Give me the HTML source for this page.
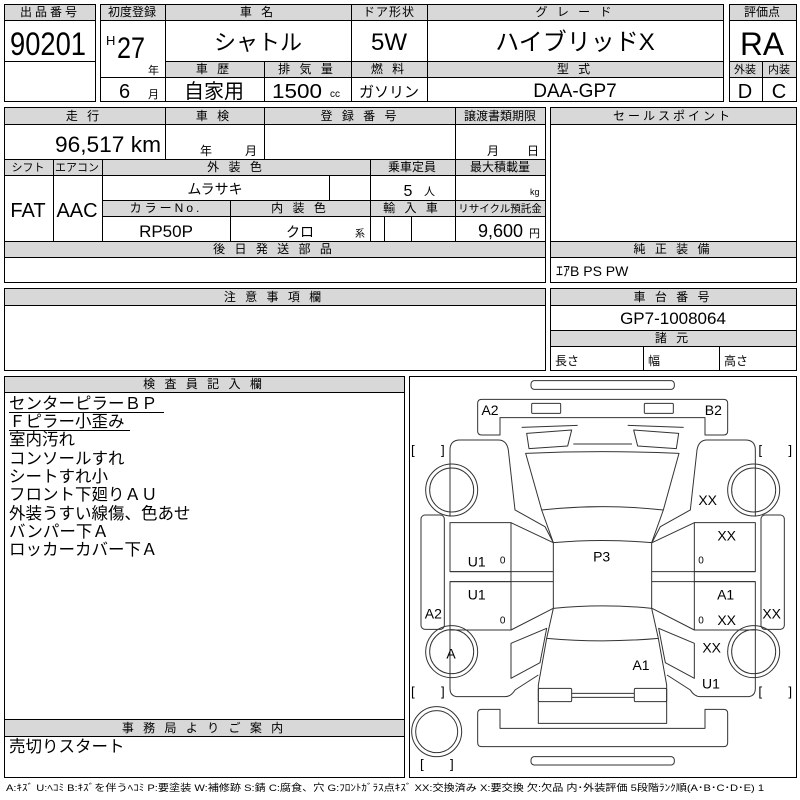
<!DOCTYPE html>
<html><head><meta charset="utf-8"><style>
body{margin:0;background:#fff}
svg{display:block}
text{font-family:"Liberation Sans","Noto Sans CJK JP",sans-serif;fill:#000}
.h{font-size:12px;text-anchor:middle;letter-spacing:3px}
.c{text-anchor:middle}
</style></head><body>
<svg width="800" height="800" viewBox="0 0 800 800" xmlns="http://www.w3.org/2000/svg">
<rect width="800" height="800" fill="#fff"/>
<g fill="#d8d8d8">
<rect x="4" y="4" width="91" height="16"/>
<rect x="100" y="4" width="623" height="16"/>
<rect x="165" y="61" width="558" height="16"/>
<rect x="729" y="4" width="67" height="16"/>
<rect x="729" y="61" width="67" height="16"/>
<rect x="4" y="107" width="541" height="17"/>
<rect x="4" y="159" width="541" height="16"/>
<rect x="102" y="200" width="443" height="16"/>
<rect x="4" y="241" width="541" height="16"/>
<rect x="550" y="107" width="246" height="17"/>
<rect x="550" y="241" width="246" height="16"/>
<rect x="4" y="288" width="541" height="17"/>
<rect x="550" y="288" width="246" height="17"/>
<rect x="550" y="330" width="246" height="16"/>
<rect x="4" y="376" width="400" height="16"/>
<rect x="4" y="719" width="400" height="17"/>
</g>
<g fill="none" stroke="#000" stroke-width="1">
<rect x="4.5" y="4.5" width="91" height="97"/>
<path d="M4 20.5H95M4 61.5H95"/>
<rect x="100.5" y="4.5" width="623" height="97"/>
<path d="M100 20.5H723M165 61.5H723M100 77.5H723M165.5 4V101M351.5 4V101M427.5 4V101M264.5 61V101"/>
<rect x="729.5" y="4.5" width="67" height="97"/>
<path d="M729 20.5H796M729 61.5H796M729 77.5H796M762.5 61V101"/>
<rect x="4.5" y="107.5" width="541" height="175"/>
<path d="M4 124.5H545M4 159.5H545M4 175.5H545M102 200.5H545M102 216.5H545M4 241.5H545M4 257.5H545"/>
<path d="M165.5 107V159M264.5 107V159M455.5 107V241M53.5 159V241M102.5 159V241M370.5 159V241M329.5 175V200M230.5 200V241M384.5 216V241M411.5 216V241"/>
<rect x="550.5" y="107.5" width="246" height="175"/>
<path d="M550 124.5H796M550 241.5H796M550 257.5H796"/>
<rect x="4.5" y="288.5" width="541" height="82"/>
<path d="M4 305.5H545"/>
<rect x="550.5" y="288.5" width="246" height="82"/>
<path d="M550 305.5H796M550 330.5H796M550 346.5H796M643.5 346V370M719.5 346V370"/>
<rect x="4.5" y="376.5" width="400" height="401"/>
<path d="M4 392.5H404M4 719.5H404M4 736.5H404"/>
<rect x="409.5" y="376.5" width="387" height="401"/>
</g>
<!-- row1 texts -->
<text class="h" x="50" y="16">出品番号</text>
<text x="10" y="55" font-size="32" textLength="76" lengthAdjust="spacingAndGlyphs">90201</text>
<text class="h" x="132" y="16" style="letter-spacing:0">初度登録</text>
<text class="h" x="258" y="16">車 名</text>
<text class="h" x="389" y="16" style="letter-spacing:1px">ドア形状</text>
<text class="h" x="575" y="16">グ レ ー ド</text>
<text x="106" y="45" font-size="13">H</text>
<text x="117" y="58" font-size="30" textLength="28" lengthAdjust="spacingAndGlyphs">27</text>
<text x="148" y="74" font-size="11">年</text>
<text class="c" x="258" y="50" font-size="22">シャトル</text>
<text class="c" x="389" y="50" font-size="24">5W</text>
<text class="c" x="575" y="50" font-size="24">ハイブリッドX</text>
<text class="h" x="214" y="73">車 歴</text>
<text class="h" x="307" y="73">排 気 量</text>
<text class="h" x="389" y="73">燃 料</text>
<text class="h" x="575" y="73">型 式</text>
<text x="119" y="98" font-size="20">6</text>
<text x="148" y="98" font-size="11">月</text>
<text class="c" x="214" y="98" font-size="20">自家用</text>
<text x="272" y="98" font-size="20" textLength="50" lengthAdjust="spacingAndGlyphs">1500</text>
<text x="330" y="97" font-size="10">cc</text>
<text class="c" x="389" y="97" font-size="15">ガソリン</text>
<text class="c" x="575" y="97" font-size="19">DAA-GP7</text>
<text class="h" x="762" y="16" style="letter-spacing:0">評価点</text>
<text x="740" y="55" font-size="32" textLength="44" lengthAdjust="spacingAndGlyphs">RA</text>
<text class="c" x="745" y="73" font-size="11">外装</text>
<text class="c" x="779" y="73" font-size="11">内装</text>
<text class="c" x="745" y="98" font-size="20">D</text>
<text class="c" x="779" y="98" font-size="20">C</text>
<!-- row2 -->
<text class="h" x="84" y="120">走 行</text>
<text class="h" x="214" y="120">車 検</text>
<text class="h" x="360" y="120">登 録 番 号</text>
<text class="h" x="500" y="120" style="letter-spacing:0">譲渡書類期限</text>
<text x="55" y="152" font-size="22" textLength="106" lengthAdjust="spacingAndGlyphs">96,517 km</text>
<text x="200" y="155" font-size="12">年</text>
<text x="245" y="155" font-size="12">月</text>
<text x="487" y="155" font-size="12">月</text>
<text x="527" y="155" font-size="12">日</text>
<text class="h" x="28" y="171" style="letter-spacing:0;font-size:11px">シフト</text>
<text class="h" x="77" y="171" style="letter-spacing:0;font-size:11px">エアコン</text>
<text class="h" x="236" y="171">外 装 色</text>
<text class="h" x="412" y="171" style="letter-spacing:0">乗車定員</text>
<text class="h" x="500" y="171" style="letter-spacing:0">最大積載量</text>
<text class="c" x="28" y="217" font-size="20">FAT</text>
<text class="c" x="77" y="217" font-size="20">AAC</text>
<text class="c" x="215" y="194" font-size="14">ムラサキ</text>
<text class="c" x="408" y="196" font-size="16">5</text>
<text x="424" y="195" font-size="11">人</text>
<text x="530" y="195" font-size="9">kg</text>
<text class="h" x="166" y="212">カラーNo.</text>
<text class="h" x="300" y="212">内 装 色</text>
<text class="h" x="412" y="212">輸 入 車</text>
<text class="c" x="500" y="212" font-size="10.5">リサイクル預託金</text>
<text class="c" x="166" y="237" font-size="17">RP50P</text>
<text class="c" x="300" y="237" font-size="14">クロ</text>
<text x="355" y="237" font-size="10">系</text>
<text x="478" y="237" font-size="18">9,600</text>
<text x="529" y="237" font-size="11">円</text>
<text class="h" x="274" y="253">後 日 発 送 部 品</text>
<text class="h" x="673" y="120">セールスポイント</text>
<text class="h" x="673" y="253">純 正 装 備</text>
<text x="556" y="276" font-size="14">ｴｱB PS PW</text>
<!-- row3 -->
<text class="h" x="274" y="301">注 意 事 項 欄</text>
<text class="h" x="673" y="301">車 台 番 号</text>
<text class="c" x="673" y="324" font-size="17">GP7-1008064</text>
<text class="h" x="673" y="342">諸 元</text>
<text x="555" y="365" font-size="12">長さ</text>
<text x="648" y="365" font-size="12">幅</text>
<text x="724" y="365" font-size="12">高さ</text>
<!-- inspector -->
<text class="h" x="204" y="388">検 査 員 記 入 欄</text>
<g font-size="16.5">
<text x="9" y="409">センターピラーＢＰ</text>
<text x="9" y="427">Ｆピラー小歪み</text>
<text x="9" y="445">室内汚れ</text>
<text x="9" y="464">コンソールすれ</text>
<text x="9" y="482">シートすれ小</text>
<text x="9" y="500">フロント下廻りＡＵ</text>
<text x="9" y="519">外装うすい線傷、色あせ</text>
<text x="9" y="537">バンパー下Ａ</text>
<text x="9" y="555">ロッカーカバー下Ａ</text>
</g>
<path d="M9 412.5H164M9 430.5H130" stroke="#000" stroke-width="1"/>
<text class="h" x="204" y="732">事 務 局 よ り ご 案 内</text>
<text x="9" y="752" font-size="16.5">売切りスタート</text>
<text x="6" y="791" font-size="9.5" textLength="758" lengthAdjust="spacingAndGlyphs">A:ｷｽﾞ U:ﾍｺﾐ B:ｷｽﾞを伴うﾍｺﾐ P:要塗装 W:補修跡 S:錆 C:腐食、穴 G:ﾌﾛﾝﾄｶﾞﾗｽ点ｷｽﾞ XX:交換済み X:要交換 欠:欠品 内･外装評価 5段階ﾗﾝｸ順(A･B･C･D･E) 1</text>
<!-- car diagram -->
<g transform="translate(405,370) scale(0.33333)">
<g fill="none" stroke="#333" stroke-width="3" stroke-linejoin="round">
<rect x="378" y="32" width="430" height="26" rx="10"/>
<path d="M230,88 H956 Q968,88 968,100 V183 Q968,195 956,195 H900 V143 H285 V195 H230 Q218,195 218,183 V100 Q218,88 230,88 Z"/>
<rect x="380" y="100" width="87" height="30" rx="3"/>
<rect x="718" y="100" width="87" height="30" rx="3"/>
<path d="M505,222 H681"/>
<path d="M362,250 Q593,240 822,250 L775,420 Q593,400 410,420 Z"/>
<path d="M410,420 L445,518 M775,420 L740,518"/>
<path d="M445,518 Q593,505 740,518 L740,715 Q593,700 445,715 Z"/>
<path d="M445,715 L425,805 Q593,820 760,805 L740,715"/>
<path d="M425,805 L400,945 V1060 H785 V945 L760,805"/>
<rect x="400" y="955" width="100" height="40" rx="4"/>
<rect x="688" y="955" width="97" height="40" rx="4"/>
<path d="M500,970 H688 M500,982 H688"/>
<path d="M230,1018 H285 V1075 H900 V1018 H956 Q968,1018 968,1030 V1118 Q968,1130 956,1130 H230 Q218,1130 218,1118 V1030 Q218,1018 230,1018 Z"/>
<rect x="378" y="1160" width="430" height="25" rx="10"/>
<g id="half">
<path d="M350,172 L518,166"/>
<path d="M365,190 L500,180 L488,228 L372,236 Z"/>
<path d="M135,440 V240 Q135,210 165,210 H280 Q305,210 310,240 L330,420 L420,470 L445,518"/>
<rect x="135" y="458" width="183" height="147"/>
<rect x="135" y="635" width="183" height="145"/>
<path d="M135,605 H445 M135,635 H445 M318,458 L445,518 M318,780 L445,715 M318,605 V635"/>
<path d="M318,820 L425,775 L405,878 L318,925 Z"/>
<path d="M135,780 V955 Q135,980 160,980 H300 Q318,980 330,960 L400,915"/>
<circle cx="140" cy="360" r="78"/><circle cx="140" cy="360" r="66"/>
<circle cx="140" cy="845" r="78"/><circle cx="140" cy="845" r="66"/>
<rect x="48" y="435" width="70" height="343" rx="12"/>
</g>
<use href="#half" transform="translate(1186,0) scale(-1,1)"/>
<circle cx="95" cy="1085" r="75"/><circle cx="95" cy="1085" r="63"/>
</g>
<g font-size="42" font-family="Liberation Sans" text-anchor="middle">
<text x="255" y="135">A2</text><text x="925" y="135">B2</text>
<text x="908" y="405">XX</text><text x="965" y="512">XX</text>
<text x="215" y="590">U1</text><text x="293" y="580" font-size="30">0</text>
<text x="590" y="575">P3</text><text x="888" y="580" font-size="30">0</text>
<text x="215" y="688">U1</text><text x="962" y="688">A1</text>
<text x="85" y="745">A2</text><text x="293" y="760" font-size="30">0</text>
<text x="888" y="760" font-size="30">0</text><text x="965" y="765">XX</text>
<text x="1100" y="745">XX</text><text x="138" y="866">A</text>
<text x="920" y="848">XX</text><text x="708" y="900">A1</text>
<text x="918" y="955">U1</text>
</g>
<g font-size="40" font-family="Liberation Sans">
<text x="18" y="253">[</text><text x="108" y="253">]</text>
<text x="1060" y="253">[</text><text x="1150" y="253">]</text>
<text x="18" y="978">[</text><text x="108" y="978">]</text>
<text x="1060" y="978">[</text><text x="1150" y="978">]</text>
<text x="45" y="1195">[</text><text x="135" y="1195">]</text>
</g>
</g>
</svg>
</body></html>
